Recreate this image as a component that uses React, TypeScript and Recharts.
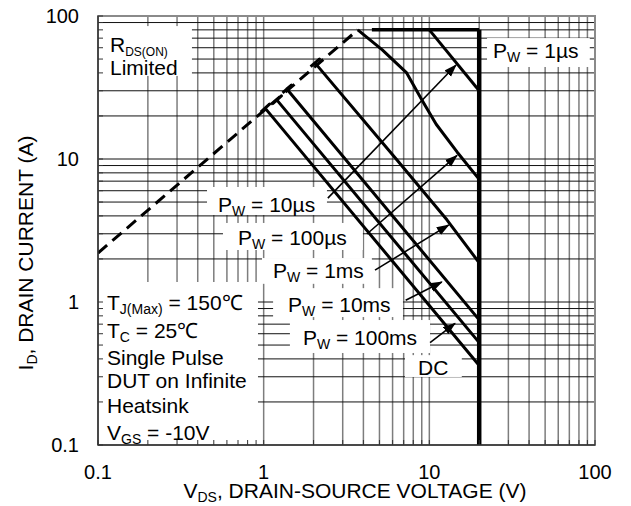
import React from "react";
import {
  LineChart,
  Line,
  XAxis,
  YAxis,
  CartesianGrid,
  ReferenceArea,
} from "recharts";

const FONT = "Arial, 'Liberation Sans', Helvetica, sans-serif";

// log grid, one line per 1..9 step of each decade
const xTicks = [
  0.1, 0.2, 0.3, 0.4, 0.5, 0.6, 0.7, 0.8, 0.9,
  1, 2, 3, 4, 5, 6, 7, 8, 9,
  10, 20, 30, 40, 50, 60, 70, 80, 90, 100,
];
const yTicks = [
  0.1, 0.2, 0.3, 0.4, 0.5, 0.6, 0.7, 0.8, 0.9,
  1, 2, 3, 4, 5, 6, 7, 8, 9,
  10, 20, 30, 40, 50, 60, 70, 80, 90, 100,
];
const decadeTicks = [0.1, 1, 10, 100];
const decadeLabels = ["0.1", "1", "10", "100"];

// boundaries: v = V_DS (V), i = I_D (A)
const rdsOnLimit = [
  { v: 0.1, i: 2.2 },
  { v: 3.7, i: 80 },
];
const pulse1us = [
  { v: 4.5, i: 80 },
  { v: 20, i: 80 },
];
const vdsLimit = [
  { v: 20, i: 80 },
  { v: 20, i: 0.1 },
];
const pulse10us = [
  { v: 10, i: 80 },
  { v: 20, i: 30 },
];
const pulse100us = [
  { v: 3.7, i: 80 },
  { v: 5.2, i: 58 },
  { v: 7.3, i: 40 },
  { v: 9, i: 26 },
  { v: 11, i: 17.5 },
  { v: 14.7, i: 11.2 },
  { v: 20, i: 7.2 },
];
// first two points of the next ones are the short cap on the R_DS(on) line
const pulse1ms = [
  { v: 1.92, i: 44.2 },
  { v: 2.17, i: 50 },
  { v: 2.04, i: 47 },
  { v: 6.4, i: 9.8 },
  { v: 12.8, i: 3.74 },
  { v: 20, i: 1.88 },
];
const pulse10ms = [
  { v: 1.3, i: 29 },
  { v: 1.47, i: 32.9 },
  { v: 1.38, i: 30.9 },
  { v: 20, i: 0.75 },
];
const pulse100ms = [
  { v: 1.13, i: 24.3 },
  { v: 1.28, i: 27.6 },
  { v: 1.2, i: 25.9 },
  { v: 20, i: 0.52 },
];
const dcLine = [
  { v: 0.96, i: 21.3 },
  { v: 1.085, i: 24.2 },
  { v: 1.02, i: 22.7 },
  { v: 20, i: 0.36 },
];

// label arrows (tail -> head)
const arrow10us = [
  { v: 2.44, i: 5.33 },
  { v: 14.5, i: 45.4 },
];
const arrow100us = [
  { v: 4.2, i: 2.99 },
  { v: 14.7, i: 10.6 },
];
const arrow1ms = [
  { v: 4.7, i: 1.67 },
  { v: 13.1, i: 3.46 },
];
const arrow10ms = [
  { v: 7.2, i: 1.03 },
  { v: 11.9, i: 1.38 },
];
const arrow100ms = [
  { v: 10.1, i: 0.52 },
  { v: 14.3, i: 0.71 },
];

type Seg = { t: string; sub?: number };
type Note = {
  x: [number, number];
  y: [number, number];
  dx: number;
  dy: number[];
  lines: Seg[][];
};

const pw = (rest: string): Seg[] => [{ t: "P" }, { t: "W", sub: 14 }, { t: rest }];

const notes: Note[] = [
  {
    x: [0.1, 0.369], y: [38.1, 85], dx: 12, dy: [26, 49],
    lines: [[{ t: "R" }, { t: "DS(ON)", sub: 12 }], [{ t: "Limited" }]],
  },
  { x: [22.3, 93], y: [44, 70.1], dx: 6, dy: [20], lines: [pw(" = 1µs")] },
  { x: [0.455, 2.41], y: [4.06, 6.37], dx: 11, dy: [25], lines: [pw(" = 10µs")] },
  { x: [0.568, 3.97], y: [2.31, 3.57], dx: 15, dy: [22], lines: [pw(" = 100µs")] },
  { x: [0.977, 4.5], y: [1.34, 2.03], dx: 11, dy: [20], lines: [pw(" = 1ms")] },
  { x: [1.14, 6.93], y: [0.785, 1.25], dx: 15, dy: [24], lines: [pw(" = 10ms")] },
  { x: [1.44, 10.1], y: [0.44, 0.748], dx: 13, dy: [25], lines: [pw(" = 100ms")] },
  { x: [7.13, 15.7], y: [0.299, 0.425], dx: 13, dy: [20], lines: [[{ t: "DC" }]] },
  {
    x: [0.1, 0.924], y: [0.1, 1.38], dx: 9, dy: [28, 56, 83, 106, 131, 158],
    lines: [
      [{ t: "T" }, { t: "J(Max)", sub: 14 }, { t: " = 150℃" }],
      [{ t: "T" }, { t: "C", sub: 14 }, { t: " = 25℃" }],
      [{ t: "Single Pulse" }],
      [{ t: "DUT on Infinite" }],
      [{ t: "Heatsink" }],
      [{ t: "V" }, { t: "GS", sub: 14 }, { t: " = -10V" }],
    ],
  },
];

function segs(line: Seg[], shift = 5) {
  let down = false;
  return line.map((s, k) => {
    if (s.sub) {
      const el = (
        <tspan key={k} dy={shift} fontSize={s.sub}>
          {s.t}
        </tspan>
      );
      down = true;
      return el;
    }
    const el = (
      <tspan key={k} dy={down ? -shift : 0}>
        {s.t}
      </tspan>
    );
    down = false;
    return el;
  });
}

const noteShape = (n: Note) => (p: any) => (
  <g>
    <rect x={p.x} y={p.y} width={p.width} height={p.height} fill="#fff" stroke="none" />
    {n.lines.map((line, k) => (
      <text key={k} x={p.x + n.dx} y={p.y + n.dy[k]} fontSize={21} fontFamily={FONT} fill="#000">
        {segs(line, 4)}
      </text>
    ))}
  </g>
);

const XTick = (p: any) => {
  const k = decadeTicks.indexOf(p.payload.value);
  return (
    <g>
      <line x1={p.x} y1={p.y} x2={p.x} y2={p.y - 5} stroke="#333" />
      {k >= 0 && (
        <text x={p.x} y={p.y + 34} textAnchor="middle" fontSize={20} fontFamily={FONT} fill="#000">
          {decadeLabels[k]}
        </text>
      )}
    </g>
  );
};

const YTick = (p: any) => {
  const k = decadeTicks.indexOf(p.payload.value);
  return (
    <g>
      <line x1={p.x} y1={p.y} x2={p.x + 5} y2={p.y} stroke="#333" />
      {k >= 0 && (
        <text x={p.x - 19} y={p.y + 7} textAnchor="end" fontSize={20} fontFamily={FONT} fill="#000">
          {decadeLabels[k]}
        </text>
      )}
    </g>
  );
};

const XTitle = () => (
  <text x={355} y={498} textAnchor="middle" fontSize={21} fontFamily={FONT} fill="#000">
    {segs([{ t: "V" }, { t: "DS", sub: 14 }, { t: ", DRAIN-SOURCE VOLTAGE (V)" }], 4)}
  </text>
);

const YTitle = () => (
  <text
    transform="rotate(-90)"
    x={-253}
    y={33}
    textAnchor="middle"
    fontSize={21}
    fontFamily={FONT}
    fill="#000"
  >
    {segs([{ t: "I" }, { t: "D", sub: 14 }, { t: ", DRAIN CURRENT (A)" }], 4)}
  </text>
);

const curve = (data: { v: number; i: number }[], width: number, extra: any = {}) => (
  <Line
    data={data}
    dataKey="i"
    type="linear"
    stroke="#000"
    strokeWidth={width}
    strokeLinejoin="round"
    dot={false}
    activeDot={false}
    isAnimationActive={false}
    {...extra}
  />
);

export default function App() {
  return (
    <div style={{ margin: "-8px 0 0 -8px", width: 631, height: 506 }}>
      <LineChart width={631} height={506} margin={{ top: 16, right: 36, bottom: 0, left: 8 }}>
        <defs>
          <marker
            id="arrowHead"
            markerUnits="userSpaceOnUse"
            markerWidth={13}
            markerHeight={10}
            refX={12}
            refY={4.5}
            orient="auto"
          >
            <path d="M0,0 L13,4.5 L0,9 z" fill="#000" />
          </marker>
        </defs>
        <CartesianGrid horizontal={false} stroke="#7d7d7d" strokeWidth={1.5} />
        <CartesianGrid vertical={false} stroke="#111" strokeWidth={1} />
        {notes.map((n, k) => (
          <ReferenceArea
            key={k}
            x1={n.x[0]}
            x2={n.x[1]}
            y1={n.y[0]}
            y2={n.y[1]}
            ifOverflow="visible"
            shape={noteShape(n)}
          />
        ))}
        <ReferenceArea
          x1={0.1}
          x2={100}
          y1={0.1}
          y2={100}
          fill="none"
          fillOpacity={0}
          stroke="#8a8a8a"
          strokeWidth={2}
        />
        {curve(rdsOnLimit, 3, { strokeDasharray: "12 7" })}
        {curve(pulse1us, 3.5)}
        {curve(vdsLimit, 4.5)}
        {curve(pulse10us, 3)}
        {curve(pulse100us, 3)}
        {curve(pulse1ms, 3)}
        {curve(pulse10ms, 3)}
        {curve(pulse100ms, 3)}
        {curve(dcLine, 3)}
        {[arrow10us, arrow100us, arrow1ms, arrow10ms, arrow100ms].map((a, k) => (
          <Line
            key={"a" + k}
            data={a}
            dataKey="i"
            type="linear"
            stroke="#000"
            strokeWidth={1.6}
            markerEnd="url(#arrowHead)"
            dot={false}
            activeDot={false}
            isAnimationActive={false}
          />
        ))}
        <XAxis
          dataKey="v"
          type="number"
          scale="log"
          domain={[0.1, 100]}
          allowDataOverflow
          ticks={xTicks}
          interval={0}
          height={61}
          tickSize={0}
          tickMargin={0}
          tick={<XTick />}
          axisLine={{ stroke: "#333", strokeWidth: 1.5 }}
          label={<XTitle />}
        />
        <YAxis
          type="number"
          scale="log"
          domain={[0.1, 100]}
          allowDataOverflow
          ticks={yTicks}
          interval={0}
          width={90}
          tickSize={0}
          tickMargin={0}
          tick={<YTick />}
          axisLine={{ stroke: "#333", strokeWidth: 1.5 }}
          label={<YTitle />}
        />
      </LineChart>
    </div>
  );
}
